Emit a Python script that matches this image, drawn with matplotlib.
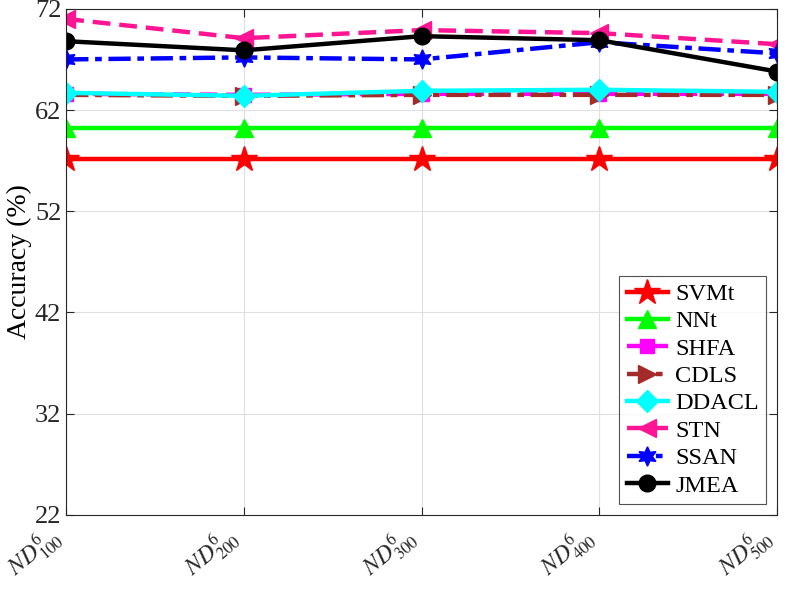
import matplotlib
matplotlib.use("Agg")
import matplotlib.pyplot as plt

plt.rcParams['font.family'] = ['Liberation Serif', 'DejaVu Serif']
plt.rcParams['mathtext.fontset'] = 'stix'

categories = [r'$ND^6_{100}$', r'$ND^6_{200}$', r'$ND^6_{300}$', r'$ND^6_{400}$', r'$ND^6_{500}$']
svmt = [57.2, 57.2, 57.2, 57.2, 57.2]
nnt = [60.2, 60.2, 60.2, 60.2, 60.2]
shfa = [63.6, 63.5, 63.6, 63.6, 63.6]
cdls = [63.5, 63.4, 63.5, 63.5, 63.5]
ddacl = [63.7, 63.4, 63.9, 64.0, 63.8]
stn = [71.0, 69.1, 69.9, 69.6, 68.5]
ssan = [67.0, 67.2, 67.0, 68.7, 67.6]
jmea = [68.8, 67.9, 69.3, 68.9, 65.8]
yticks = [22, 32, 42, 52, 62, 72]

fig = plt.figure(figsize=(7.98, 5.89), dpi=100)
ax = fig.add_axes([0.083, 0.126, 0.891, 0.859])
x = list(range(len(categories)))
lw = 3.2
series = [
    ('SVMt', svmt, 'red', '-', '*', 19),
    ('NNt', nnt, '#00ff00', '-', '^', 13),
    ('SHFA', shfa, 'magenta', '--', 's', 10),
    ('CDLS', cdls, '#a52a2a', '-.', '>', 13),
    ('DDACL', ddacl, 'cyan', '-', 'D', 11),
    ('STN', stn, '#ff1493', '--', '<', 13),
    ('SSAN', ssan, 'blue', '-.', (6, 1, 0), 14),
    ('JMEA', jmea, 'black', '-', 'o', 12),
]
for name, vals, c, ls, m, ms in series:
    ax.plot(x, vals, color=c, linestyle=ls, marker=m, markersize=ms, linewidth=lw,
            label=name, dashes=(4, 2) if ls == '--' else ((5, 1.5, 1.5, 1.5) if ls == '-.' else (None, None)))

ax.set_xlim(0, 4)
ax.set_ylim(22, 72)
ax.set_yticks(yticks)
ax.set_xticks(x)
ax.set_xticklabels(categories, rotation=40, fontsize=17)
ax.tick_params(axis='x', pad=4)
ax.tick_params(axis='y', labelsize=19)
ax.tick_params(direction='in', length=6, width=0.8, colors='#262626', top=True, right=True)
for lab in ax.get_xticklabels():
    lab.set_ha('right')
ax.grid(True, color='#e0e0e0', linewidth=0.8)
ax.set_ylabel('Accuracy (%)', fontsize=20, labelpad=2)
for s in ax.spines.values():
    s.set_color('#262626')
    s.set_linewidth(0.8)
leg = ax.legend(loc='lower right', fontsize=17.5, frameon=True, fancybox=False, edgecolor='#262626',
                handlelength=1.7, labelspacing=0.22, borderaxespad=0.45, handletextpad=0.3,
                borderpad=0.3)
leg.get_frame().set_linewidth(0.8)
fig.savefig('out.png', dpi=100)
